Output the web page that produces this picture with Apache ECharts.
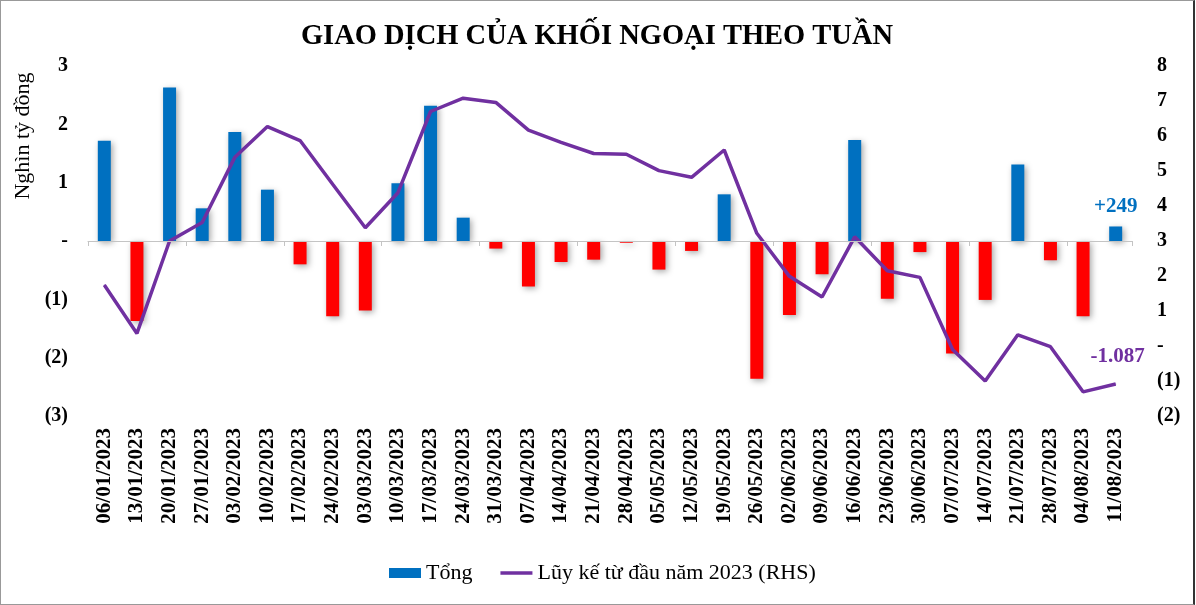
<!DOCTYPE html>
<html><head><meta charset="utf-8">
<script src="https://cdn.jsdelivr.net/npm/echarts@6/dist/echarts.min.js"></script>
<style>html,body{margin:0;padding:0;background:#fff}#c{width:1192px;height:603px;border:1px solid #999;border-right:2px solid #333}</style>
</head><body><div id="c"></div>
<script>
const categories = ["06/01/2023","13/01/2023","20/01/2023","27/01/2023","03/02/2023","10/02/2023","17/02/2023","24/02/2023","03/03/2023","10/03/2023","17/03/2023","24/03/2023","31/03/2023","07/04/2023","14/04/2023","21/04/2023","28/04/2023","05/05/2023","12/05/2023","19/05/2023","26/05/2023","02/06/2023","09/06/2023","16/06/2023","23/06/2023","30/06/2023","07/07/2023","14/07/2023","21/07/2023","28/07/2023","04/08/2023","11/08/2023"];
const weekly = [1.72,-1.37,2.63,0.56,1.87,0.88,-0.40,-1.29,-1.19,0.99,2.32,0.40,-0.13,-0.78,-0.36,-0.32,-0.03,-0.49,-0.17,0.80,-2.36,-1.27,-0.57,1.73,-0.99,-0.19,-1.93,-1.01,1.31,-0.33,-1.29,0.249];
const cumulative = [1.74,0.36,3.00,3.53,5.39,6.27,5.87,4.62,3.38,4.38,6.70,7.08,6.96,6.17,5.82,5.50,5.48,5.01,4.82,5.60,3.22,1.99,1.40,3.12,2.15,1.96,-0.10,-1.00,0.32,-0.02,-1.31,-1.087];
const leftTicks = {min:-3,max:3,interval:1};
const rightTicks = {min:-2,max:8,interval:1};
const lastBarLabel = "+249";
const lastLineLabel = "-1.087";

const FONT = "'Liberation Serif','Times New Roman',serif";
const fmt = v => v === 0 ? "-" : (v < 0 ? "(" + Math.abs(v) + ")" : String(v));
const chart = echarts.init(document.getElementById('c'));
const barData = weekly.map((v,i) => {
  const o = {value:v, itemStyle:{color: v>=0 ? '#0070C0' : '#FF0000'}};
  if (i === weekly.length-1) o.label = {show:true, position:'top', distance:9, formatter:lastBarLabel, color:'#0070C0', fontFamily:FONT, fontWeight:'bold', fontSize:21};
  return o;
});
const lineData = cumulative.map((v,i) => {
  const o = {value:v};
  if (i === cumulative.length-1) o.label = {show:true, position:'top', distance:16, offset:[2,0], formatter:lastLineLabel, color:'#7030A0', fontFamily:FONT, fontWeight:'bold', fontSize:21};
  return o;
});
chart.setOption({
  animation:false,
  title:{text:'GIAO DỊCH CỦA KHỐI NGOẠI THEO TUẦN', left:'center', top:16, textStyle:{fontFamily:FONT, fontWeight:'bold', fontSize:28.5, color:'#000'}},
  grid:{left:87, right:61, top:65, bottom:188, containLabel:false, outerBoundsMode:'none'},
  legend:{bottom:15, left:383, itemGap:28, textStyle:{fontFamily:FONT, fontSize:22, color:'#000'},
    itemWidth:32, itemHeight:10,
    data:[{name:'Tổng', icon:'rect', itemStyle:{color:'#0070C0'}},
          {name:'Lũy kế từ đầu năm 2023 (RHS)', icon:'path://M0,0L34,0L34,3.5L0,3.5Z', itemStyle:{color:'#7030A0'}}]},
  graphic:[{type:'text', x:22, y:135, rotation:Math.PI/2, style:{text:'Nghìn tỷ đồng', fontFamily:FONT, fontSize:22, fill:'#000', textAlign:'center', textVerticalAlign:'middle'}}],
  xAxis:[
    {type:'category', data:categories, position:'bottom', axisLine:{show:false, onZero:false}, axisTick:{show:false},
     axisLabel:{rotate:90, interval:0, margin:12, fontFamily:FONT, fontWeight:'bold', fontSize:21, color:'#000'}},
    {type:'category', data:categories, position:'top', axisLine:{show:true, onZero:true, onZeroAxisIndex:0, lineStyle:{color:'#c4c4c4'}},
     axisTick:{show:true, inside:true, length:5, lineStyle:{color:'#c4c4c4'}}, axisLabel:{show:false}}
  ],
  yAxis:[
    {type:'value', min:leftTicks.min, max:leftTicks.max, interval:leftTicks.interval, splitLine:{show:false}, axisLine:{show:false}, axisTick:{show:false},
     axisLabel:{formatter:fmt, fontFamily:FONT, fontWeight:'bold', fontSize:20, color:'#000', margin:20}},
    {type:'value', min:rightTicks.min, max:rightTicks.max, interval:rightTicks.interval, splitLine:{show:false}, axisLine:{show:false}, axisTick:{show:false},
     axisLabel:{formatter:fmt, fontFamily:FONT, fontWeight:'bold', fontSize:20, color:'#000', margin:25}}
  ],
  series:[
    {name:'Tổng', type:'bar', xAxisIndex:0, yAxisIndex:0, data:barData, barWidth:13,
     itemStyle:{color:'#0070C0', shadowColor:'rgba(0,0,0,0.35)', shadowBlur:6, shadowOffsetX:2, shadowOffsetY:2},
     markLine:{silent:true, symbol:'none', label:{show:false}, lineStyle:{color:'#c4c4c4', type:'solid', width:1}, data:[{yAxis:0}]}},
    {name:'Lũy kế từ đầu năm 2023 (RHS)', type:'line', xAxisIndex:0, yAxisIndex:1, data:lineData, symbol:'circle', symbolSize:1, showSymbol:true,
     lineStyle:{color:'#7030A0', width:3.5}, itemStyle:{color:'#7030A0'}}
  ]
});
</script></body></html>
